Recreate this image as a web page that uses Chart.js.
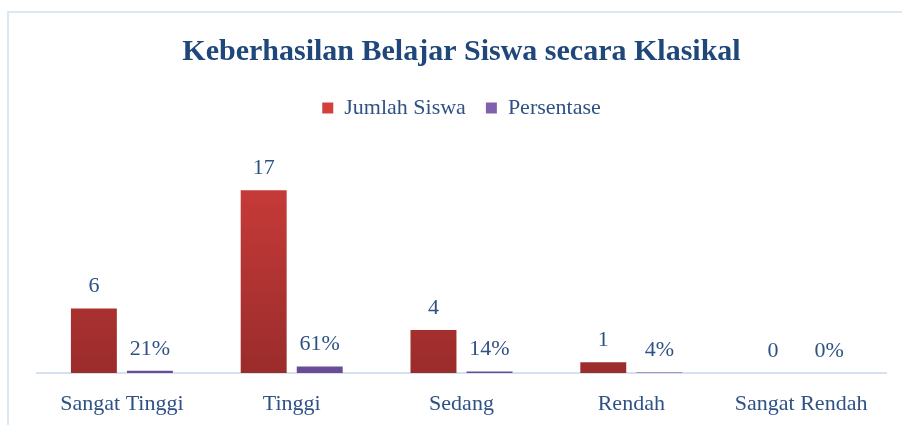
<!DOCTYPE html>
<html lang="id">
<head>
<meta charset="UTF-8">
<script src="https://cdn.jsdelivr.net/npm/chart.js"></script>
<style>
  html, body { margin: 0; padding: 0; background: #fff; }
  #wrap { width: 902px; height: 425px; position: relative; }
</style>
</head>
<body>
<div id="wrap"><canvas id="myChart" width="902" height="425"></canvas></div>
<script>
const categories = ['Sangat Tinggi', 'Tinggi', 'Sedang', 'Rendah', 'Sangat Rendah'];
const jumlahSiswa = [6, 17, 4, 1, 0];
const persentase = [0.21, 0.61, 0.14, 0.04, 0];

const textColor = '#2f5285';
const serif = "'Liberation Serif', 'DejaVu Serif', serif";

function grad(ctx, top, bottom) {
  const chart = ctx.chart;
  const area = chart.chartArea;
  if (!area) return top;
  const el = ctx.element;
  const y0 = el && el.y !== undefined ? Math.min(el.y, el.base) : area.top;
  const y1 = el && el.base !== undefined ? Math.max(el.y, el.base) : area.bottom;
  if (!isFinite(y0) || !isFinite(y1) || y1 - y0 < 1) return top;
  const g = chart.ctx.createLinearGradient(0, y0, 0, y1);
  g.addColorStop(0, top);
  g.addColorStop(1, bottom);
  return g;
}

// frame around the chart, like the original office chart border
const framePlugin = {
  id: 'frame',
  beforeDraw(chart) {
    const c = chart.ctx;
    c.save();
    c.strokeStyle = '#dce7f4';
    c.lineWidth = 2;
    c.strokeRect(8, 12, 1000, 1000);
    c.restore();
  }
};

// value labels above each bar
const labelPlugin = {
  id: 'valueLabels',
  afterDatasetsDraw(chart) {
    const c = chart.ctx;
    c.save();
    c.font = '22px ' + serif;
    c.fillStyle = textColor;
    c.textAlign = 'center';
    c.textBaseline = 'middle';
    chart.data.datasets.forEach((ds, i) => {
      chart.getDatasetMeta(i).data.forEach((bar, j) => {
        const v = ds.data[j];
        const txt = i === 1 ? Math.round(v * 100) + '%' : String(v);
        c.fillText(txt, bar.x, bar.y - 22);
      });
    });
    c.restore();
  }
};

let ctx = document.getElementById('myChart');
let myChart = new Chart(ctx, {
  type: 'bar',
  data: {
    labels: categories,
    datasets: [
      {
        label: 'Jumlah Siswa',
        data: jumlahSiswa,
        backgroundColor: c => grad(c, '#d33f3c', '#9a2c2b'),
        categoryPercentage: 0.66,
        barPercentage: 0.82
      },
      {
        label: 'Persentase',
        data: persentase,
        backgroundColor: c => grad(c, '#8160ad', '#6a4b96'),
        categoryPercentage: 0.66,
        barPercentage: 0.82
      }
    ]
  },
  options: {
    responsive: false,
    animation: false,
    layout: { padding: { left: 37, right: 16, top: 18, bottom: 0 } },
    plugins: {
      title: {
        display: true,
        text: 'Keberhasilan Belajar Siswa secara Klasikal',
        color: '#1f477a',
        font: { family: serif, size: 30, weight: 'bold' },
        padding: { top: 16, bottom: 7 }
      },
      legend: {
        labels: {
          color: textColor,
          font: { family: serif, size: 22 },
          boxWidth: 11,
          boxHeight: 11,
          padding: 20
        }
      },
      tooltip: { enabled: false }
    },
    scales: {
      x: {
        grid: { display: false },
        border: { display: true, color: '#d6e1f0', width: 2 },
        ticks: { color: textColor, font: { family: serif, size: 22 }, padding: 10 },
        afterFit(scale) { scale.height = 52; }
      },
      y: {
        display: false,
        min: 0,
        max: 22.7
      }
    }
  },
  plugins: [framePlugin, labelPlugin]
});
</script>
</body>
</html>
